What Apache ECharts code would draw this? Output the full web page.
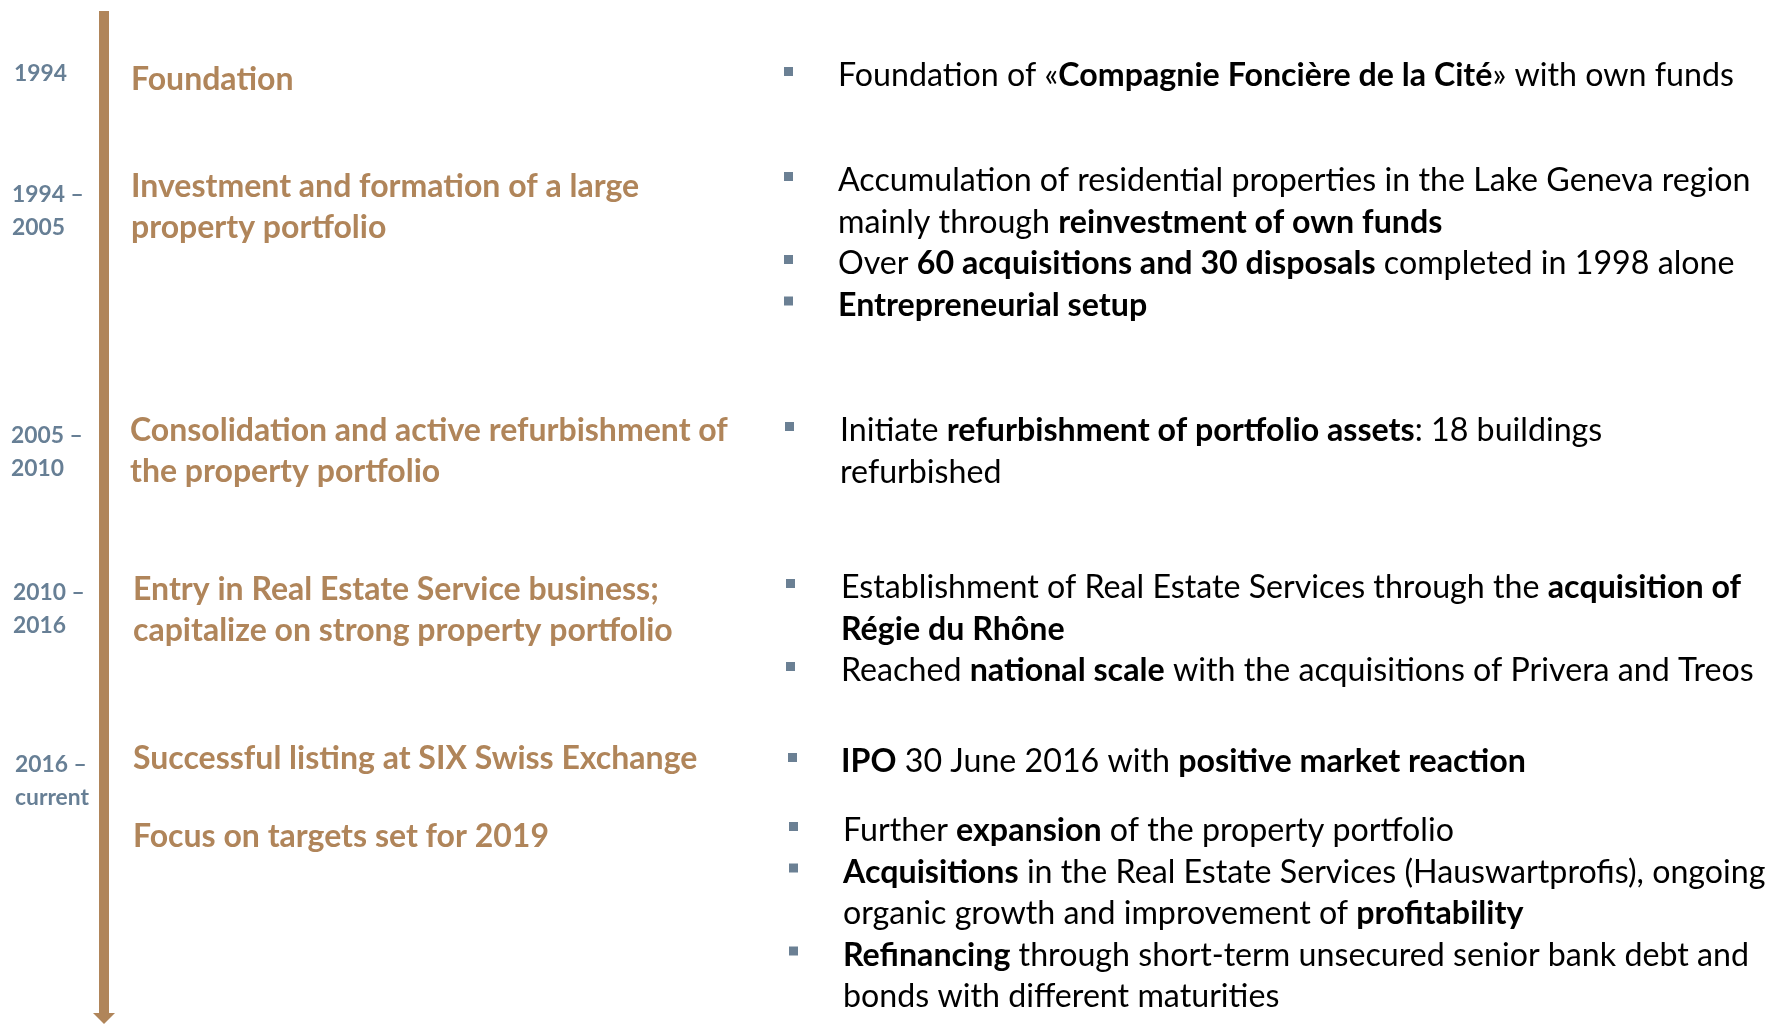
<!DOCTYPE html>
<html>
<head>
<meta charset="utf-8">
<script src="https://cdn.jsdelivr.net/npm/echarts@6/dist/echarts.min.js"></script>
<style>
  html, body { margin: 0; padding: 0; background: #fff; }
  #main { width: 1773px; height: 1024px; }
</style>
</head>
<body>
<div id="main"></div>
<script>
// timeline content
const periods = [
  ['1994'],
  ['1994 –', '2005'],
  ['2005 –', '2010'],
  ['2010 –', '2016'],
  ['2016 –', 'current']
];
const headings = [
  ['Foundation'],
  ['Investment and formation of a large', 'property portfolio'],
  ['Consolidation and active refurbishment of', 'the property portfolio'],
  ['Entry in Real Estate Service business;', 'capitalize on strong property portfolio'],
  ['Successful listing at SIX Swiss Exchange'],
  ['Focus on targets set for 2019']
];
// **..** marks bold parts
const bullets = [
  [['Foundation of «**Compagnie Foncière de la Cité**» with own funds']],
  [['Accumulation of residential properties in the Lake Geneva region', 'mainly through **reinvestment of own funds**'],
   ['Over **60 acquisitions and 30 disposals** completed in 1998 alone'],
   ['**Entrepreneurial setup**']],
  [['Initiate **refurbishment of portfolio assets**: 18 buildings', 'refurbished']],
  [['Establishment of Real Estate Services through the **acquisition of**', '**Régie du Rhône**'],
   ['Reached **national scale** with the acquisitions of Privera and Treos']],
  [['**IPO** 30 June 2016 with **positive market reaction**']],
  [['Further **expansion** of the property portfolio'],
   ['**Acquisitions** in the Real Estate Services (Hauswartprofis), ongoing', 'organic growth and improvement of **profitability**'],
   ['**Refinancing** through short-term unsecured senior bank debt and', 'bonds with different maturities']]
];

/* layout */
const DY = 3;
const yearY = [71, 192, 433, 590, 762];
const yearX = [14, 12, 11, 13, 15];
const headY = [77, 184, 428, 587, 756, 834];
const headX = [131, 131, 130, 133, 133, 133];
const bulY = [73, 178, 428, 585, 759, 828];
const bulTextX = [838, 838, 840, 841, 841, 843];
const bulDotX = [784, 784, 785, 786, 788, 789];

const FONT = 'Lato, "Open Sans", sans-serif';
const TAN = '#B0855A';
const STEEL = '#677F95';

let ctx = document.createElement('canvas').getContext('2d');
function fitSize(text, weight, target) {
  ctx.font = weight + ' 100px ' + FONT;
  return 100 * target / ctx.measureText(text).width;
}
const bodySize = fitSize('Accumulation of residential properties in the Lake Geneva region', 'normal', 913);
const headSize = (fitSize('Consolidation and active refurbishment of', 'bold', 606) +
  fitSize('Successful listing at SIX Swiss Exchange', 'bold', 557)) / 2;
const yearSize = fitSize('1994', 'bold', 53);

function toRich(s) {
  return s.replace(/\*\*(.+?)\*\*/g, '{b|$1}');
}

let elements = [];

// timeline arrow
elements.push({
  type: 'rect', shape: { x: 99, y: 11, width: 10, height: 1004 },
  style: { fill: TAN }, silent: true
});
elements.push({
  type: 'polygon', shape: { points: [[93, 1013], [115, 1013], [104, 1024]] },
  style: { fill: TAN }, silent: true
});

periods.forEach(function (lines, i) {
  lines.forEach(function (t, j) {
    elements.push({
      type: 'text', x: yearX[i], y: yearY[i] + j * 33 + DY,
      style: { text: t, fill: STEEL, fontFamily: FONT, fontWeight: 'bold', fontSize: yearSize, verticalAlign: 'middle' }
    });
  });
});

headings.forEach(function (lines, i) {
  lines.forEach(function (t, j) {
    elements.push({
      type: 'text', x: headX[i], y: headY[i] + j * 41 + DY,
      style: { text: t, fill: TAN, fontFamily: FONT, fontWeight: 'bold', fontSize: headSize, verticalAlign: 'middle' }
    });
  });
});

bullets.forEach(function (items, i) {
  let k = 0;
  items.forEach(function (lines) {
    let y0 = bulY[i] + k * 41.5 + DY;
    elements.push({
      type: 'rect', shape: { x: bulDotX[i], y: y0 - 9, width: 9, height: 9 },
      style: { fill: '#6B8094' }, silent: true
    });
    lines.forEach(function (t) {
      elements.push({
        type: 'text', x: bulTextX[i], y: bulY[i] + k * 41.5 + DY,
        style: {
          text: toRich(t), fill: '#000', fontFamily: FONT, fontWeight: 'normal', fontSize: bodySize,
          verticalAlign: 'middle',
          rich: { b: { fill: '#000', fontFamily: FONT, fontWeight: 'bold', fontSize: bodySize } }
        }
      });
      k++;
    });
  });
});

let myChart = echarts.init(document.getElementById('main'));
let option = {
  backgroundColor: '#fff',
  animation: false,
  graphic: { elements: elements }
};
myChart.setOption(option);
</script>
</body>
</html>
